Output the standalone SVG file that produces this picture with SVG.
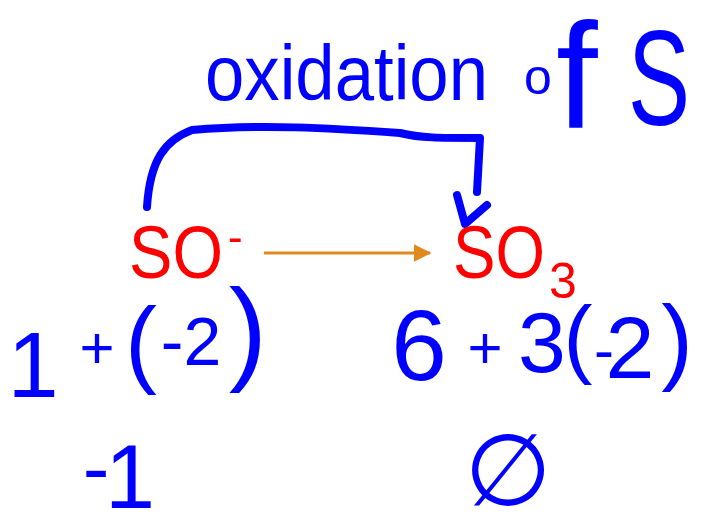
<svg xmlns="http://www.w3.org/2000/svg" width="718" height="525" viewBox="0 0 718 525">
  <style>
    .chem { fill: #FF0000; font-family: "Liberation Sans", Arial, sans-serif; }
    .hw { fill: #0000FF; font-family: "Liberation Sans", Arial, sans-serif; }
    .ink { fill: none; stroke: #0000FF; stroke-width: 8; stroke-linecap: round; stroke-linejoin: round; }
    .flow { fill: none; stroke: #E0891F; stroke-width: 3; }
  </style>
  <defs>
    <marker id="orangeHead" markerWidth="6" markerHeight="6" refX="5.5" refY="3" orient="auto" markerUnits="strokeWidth">
      <path d="M0,0 L6,3 L0,6 Z" fill="#E0891F"/>
    </marker>
  </defs>
  <rect width="718" height="525" fill="#FFFFFF"/>

  <g id="connectors">
    <line class="flow" x1="264" y1="253" x2="430" y2="253" marker-end="url(#orangeHead)"/>
    <path class="ink" d="M147,207 C150,160 165,140 192,130 C260,124 330,128 400,133 C420,138 440,138 480,138 L477,192"/>
    <path class="ink" d="M457,195 L465,224 L487,205"/>
  </g>

  <g id="label-oxidation">
    <text class="hw" x="205" y="100" font-size="77" textLength="283" lengthAdjust="spacingAndGlyphs">oxidation</text>
    <text class="hw"><tspan x="524" y="94" font-size="50">o</tspan><tspan x="556" y="128" font-size="150">f</tspan></text>
    <text class="hw" x="628" y="125" font-size="135" textLength="62" lengthAdjust="spacingAndGlyphs">S</text>
  </g>

  <g id="node-so-minus">
    <text class="chem" x="129" y="278" font-size="74"><tspan textLength="94" lengthAdjust="spacingAndGlyphs">SO</tspan><tspan x="228" y="252" font-size="44">-</tspan></text>
  </g>

  <g id="node-so3">
    <text class="chem" x="453" y="278" font-size="74"><tspan textLength="92" lengthAdjust="spacingAndGlyphs">SO</tspan><tspan x="549" y="298" font-size="50">3</tspan></text>
  </g>

  <g id="calc-left">
    <text class="hw" text-anchor="middle"><tspan x="33" y="397" font-size="92">1</tspan><tspan x="97" y="368" font-size="60">+</tspan><tspan x="141" y="375" font-size="96">(</tspan><tspan x="191" y="365" font-size="68">-2</tspan><tspan x="248" y="369" font-size="115">)</tspan></text>
  </g>

  <g id="calc-right">
    <text class="hw" text-anchor="middle"><tspan x="419" y="380" font-size="100">6</tspan><tspan x="485" y="368" font-size="60">+</tspan><tspan x="542" y="372" font-size="86">3</tspan><tspan x="578" y="367" font-size="87">(</tspan><tspan x="604" y="370" font-size="60">-</tspan><tspan x="630" y="378" font-size="88">2</tspan><tspan x="677" y="372" font-size="95">)</tspan></text>
  </g>

  <g id="result-left">
    <text class="hw" text-anchor="middle"><tspan x="96" y="495" font-size="80">-</tspan><tspan x="130" y="508" font-size="90">1</tspan></text>
  </g>

  <g id="result-right">
    <text class="hw" x="508" y="505" font-size="100" text-anchor="middle" style="font-family: 'DejaVu Sans', sans-serif;">∅</text>
  </g>
</svg>
